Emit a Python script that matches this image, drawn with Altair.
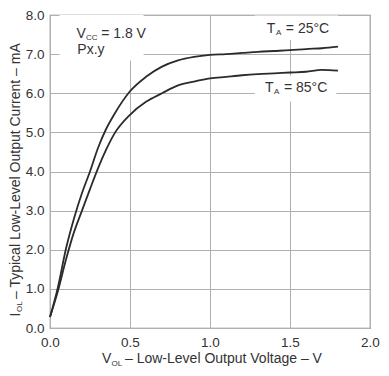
import altair as alt
import pandas as pd

# ---- data ----
v_ol = [0.0, 0.05, 0.1, 0.15, 0.2, 0.25, 0.3, 0.35, 0.4, 0.5, 0.6, 0.7, 0.8,
        0.9, 1.0, 1.1, 1.2, 1.3, 1.4, 1.5, 1.6, 1.7, 1.8]
i_ol_25 = [0.28, 1.05, 2.03, 2.8, 3.45, 4.0, 4.6, 5.08, 5.45, 6.05, 6.42, 6.68, 6.84,
           6.93, 6.98, 7.0, 7.03, 7.06, 7.08, 7.1, 7.13, 7.15, 7.19]
i_ol_85 = [0.28, 0.95, 1.75, 2.45, 3.0, 3.55, 4.08, 4.55, 4.95, 5.45, 5.78, 6.0, 6.2,
           6.3, 6.38, 6.42, 6.46, 6.49, 6.51, 6.53, 6.55, 6.6, 6.58]
x_ticks = [0.0, 0.5, 1.0, 1.5, 2.0]
y_ticks = [0.0, 1.0, 2.0, 3.0, 4.0, 5.0, 6.0, 7.0, 8.0]

# annotation boxes (data coords)
box_x = [0.06, 1.28, 1.28]
box_x2 = [0.585, 1.80, 1.79]
box_y = [6.84, 7.36, 5.79]
box_y2 = [8.0, 7.99, 6.45]

# annotation text (data coords)
ann_text = ["V", "= 1.8 V", "Px.y", "T", "= 25°C", "T", "= 85°C"]
ann_x = [0.165, 0.32, 0.171, 1.355, 1.474, 1.343, 1.462]
ann_y = [7.42, 7.42, 7.0, 7.53, 7.53, 6.04, 6.04]
sub_text = ["CC", "A", "A"]
sub_x = [0.2255, 1.412, 1.40]
sub_y = [7.37, 7.48, 5.99]

# axis titles (pixel positions relative to plot area)
PW = 320
PH = 313
xt_text = ["V", "– Low-Level Output Voltage – V"]
xt_px = [52, 75]
xt_py = [PH + 35, PH + 35]
xs_text = ["OL"]
xs_px = [61.5]
xs_py = [PH + 37.5]
yt_text = ["I", "– Typical Low-Level Output Current – mA"]
yt_px = [-30, -30]
yt_py = [PH / 2 + 145, PH / 2 + 127.5]
ys_text = ["OL"]
ys_px = [-28.2]
ys_py = [PH / 2 + 140.5]

FONT = "Liberation Sans"
TXT = "#333333"

rows = []
for v, a, b in zip(v_ol, i_ol_25, i_ol_85):
    rows.append({"v": v, "i": a, "t": "25"})
    rows.append({"v": v, "i": b, "t": "85"})
df = pd.DataFrame(rows)

xscale = alt.Scale(domain=[0, 2], nice=False)
yscale = alt.Scale(domain=[0, 8], nice=False)

xaxis = alt.Axis(values=x_ticks, format=".1f", grid=True, gridColor="#b0b0b0",
                 tickSize=0, domain=False, labelFont=FONT, labelFontSize=13.5,
                 labelColor=TXT, labelPadding=7, labelFlush=False,
                 labelOverlap=False, labelBound=False)
yaxis = alt.Axis(values=y_ticks, format=".1f", grid=True, gridColor="#b0b0b0",
                 tickSize=0, domain=False, labelFont=FONT, labelFontSize=13.5,
                 labelColor=TXT, labelPadding=6, labelFlush=False,
                 labelOverlap=False, labelBound=False)


def X(field):
    return alt.X(field, scale=xscale, axis=xaxis, title=None)


def Y(field):
    return alt.Y(field, scale=yscale, axis=yaxis, title=None)


lines = alt.Chart(df).mark_line(color="#2b2b2b", strokeWidth=1.8, interpolate="monotone").encode(
    x=X("v:Q"), y=Y("i:Q"), detail="t:N")

boxes = alt.Chart(pd.DataFrame({"x": box_x, "x2": box_x2, "y": box_y, "y2": box_y2})).mark_rect(
    fill="white").encode(x=X("x:Q"), x2="x2:Q", y=Y("y:Q"), y2="y2:Q")

ann = alt.Chart(pd.DataFrame({"x": ann_x, "y": ann_y, "s": ann_text})).mark_text(
    align="left", baseline="alphabetic", font=FONT, fontSize=14, color=TXT).encode(
    x=X("x:Q"), y=Y("y:Q"), text="s:N")

sub = alt.Chart(pd.DataFrame({"x": sub_x, "y": sub_y, "s": sub_text})).mark_text(
    align="left", baseline="alphabetic", font=FONT, fontSize=8, color=TXT).encode(
    x=X("x:Q"), y=Y("y:Q"), text="s:N")

xt = alt.Chart(pd.DataFrame({"px": xt_px, "py": xt_py, "s": xt_text})).mark_text(
    align="left", baseline="alphabetic", font=FONT, fontSize=14, color=TXT).encode(
    x=alt.X("px:Q", scale=None), y=alt.Y("py:Q", scale=None), text="s:N")
xs = alt.Chart(pd.DataFrame({"px": xs_px, "py": xs_py, "s": xs_text})).mark_text(
    align="left", baseline="alphabetic", font=FONT, fontSize=8, color=TXT).encode(
    x=alt.X("px:Q", scale=None), y=alt.Y("py:Q", scale=None), text="s:N")
yt = alt.Chart(pd.DataFrame({"px": yt_px, "py": yt_py, "s": yt_text})).mark_text(
    align="left", baseline="alphabetic", font=FONT, fontSize=14, color=TXT, angle=270).encode(
    x=alt.X("px:Q", scale=None), y=alt.Y("py:Q", scale=None), text="s:N")
ys = alt.Chart(pd.DataFrame({"px": ys_px, "py": ys_py, "s": ys_text})).mark_text(
    align="left", baseline="alphabetic", font=FONT, fontSize=8, color=TXT, angle=270).encode(
    x=alt.X("px:Q", scale=None), y=alt.Y("py:Q", scale=None), text="s:N")

chart = alt.layer(lines, boxes, ann, sub, xt, xs, yt, ys).properties(
    width=PW, height=PH,
    autosize=alt.AutoSizeParams(type="none"),
    padding={"left": 42, "top": 7, "right": 11, "bottom": 40},
).configure_view(stroke="#808080", strokeWidth=1.2)

chart.save("out.html", embed_options={"renderer": "svg", "actions": False})
